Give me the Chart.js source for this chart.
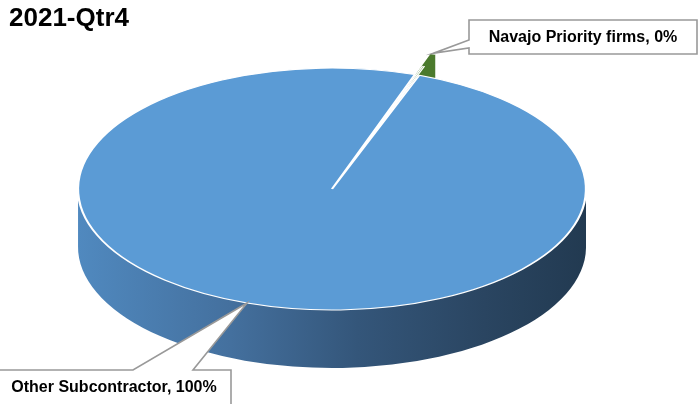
<!DOCTYPE html>
<html>
<head>
<meta charset="utf-8">
<script src="https://cdn.jsdelivr.net/npm/chart.js@4.4.1/dist/chart.umd.min.js"></script>
<style>
  html, body { margin: 0; padding: 0; background: #fff; }
</style>
</head>
<body>
<canvas id="graficaPie" width="698" height="404"></canvas>
<script>
// Datos del trimestre
const titulo = '2021-Qtr4';
const categorias = ['Navajo Priority firms', 'Other Subcontractor'];
const valores = [0.3, 99.7]; // porcentaje de cada grupo

// Colores
const coloresTapa = ['#548235', '#5b9bd5'];
const colorLadoVerde = '#4b7a2d';

// Elipse de la tapa del pastel en pantalla (centro, radios y grosor)
const E = { cx: 332, cy: 189, rx: 254, ry: 121, depth: 58 };

// Lleva coordenadas del pastel plano de Chart.js a la elipse
function aplicarElipse(ctx, arcs) {
    const base = arcs[arcs.length - 1];
    const R = base.outerRadius;
    ctx.translate(E.cx, E.cy);
    ctx.scale(E.rx / R, E.ry / R);
    ctx.translate(-base.x, -base.y);
}

function proyectar(arcs, px, py) {
    const base = arcs[arcs.length - 1];
    const R = base.outerRadius;
    return { x: E.cx + (px - base.x) * E.rx / R, y: E.cy + (py - base.y) * E.ry / R };
}

// geometria real de cada gajo (con el desplazamiento "offset")
function geometria(arc) {
    const p = arc.getProps(['x', 'y', 'startAngle', 'endAngle', 'outerRadius', 'circumference']);
    const off = arc.options.offset || 0;
    const mid = (p.startAngle + p.endAngle) / 2;
    const fix = 1 - Math.sin(Math.min(Math.PI, p.circumference));
    return {
        cx: p.x + Math.cos(mid) * off / 4,
        cy: p.y + Math.sin(mid) * off / 4,
        r: p.outerRadius + off * fix,
        start: p.startAngle,
        end: p.endAngle,
        mid: mid
    };
}

const pie3d = {
    id: 'pie3d',
    beforeDatasetsDraw: (chart) => {
        const ctx = chart.ctx;
        const arcs = chart.getDatasetMeta(0).data;

        const grad = ctx.createLinearGradient(E.cx - E.rx, 0, E.cx + E.rx, 0);
        grad.addColorStop(0, '#5089bf');
        grad.addColorStop(0.3, '#44709e');
        grad.addColorStop(0.55, '#34567a');
        grad.addColorStop(0.8, '#2a4561');
        grad.addColorStop(1, '#223a51');

        // paredes laterales: copias del gajo bajando hasta el grosor
        arcs.forEach((arc, i) => {
            const g = geometria(arc);
            ctx.beginPath();
            for (let d = E.depth; d >= 1; d--) {
                ctx.save();
                ctx.translate(0, d);
                aplicarElipse(ctx, arcs);
                ctx.moveTo(g.cx, g.cy);
                ctx.arc(g.cx, g.cy, g.r, g.start, g.end);
                ctx.closePath();
                ctx.restore();
            }
            ctx.fillStyle = i === 0 ? colorLadoVerde : grad;
            ctx.fill();
        });

        // la tapa la dibuja Chart.js dentro de la elipse
        ctx.save();
        aplicarElipse(ctx, arcs);
    },
    afterDatasetsDraw: (chart) => {
        chart.ctx.restore();
    }
};

// Etiquetas con recuadro y flecha
const cajas = [
    { x: 469, y: 20, w: 228, h: 34, lado: 'izq', b1: 40, b2: 48, tx: 583, ty: 38 },
    { x: -2, y: 370, w: 233, h: 44, lado: 'arriba', b1: 133, b2: 193, tx: 114, ty: 388 }
];

const callouts = {
    id: 'callouts',
    afterDraw: (chart) => {
        const ctx = chart.ctx;
        const arcs = chart.getDatasetMeta(0).data;
        const total = valores.reduce((a, b) => a + b, 0);
        arcs.forEach((arc, i) => {
            const g = geometria(arc);
            const punta = proyectar(arcs, g.cx + Math.cos(g.mid) * g.r, g.cy + Math.sin(g.mid) * g.r);
            const c = cajas[i];
            ctx.save();
            ctx.beginPath();
            if (c.lado === 'izq') {
                ctx.moveTo(c.x, c.y);
                ctx.lineTo(c.x + c.w, c.y);
                ctx.lineTo(c.x + c.w, c.y + c.h);
                ctx.lineTo(c.x, c.y + c.h);
                ctx.lineTo(c.x, c.b2);
                ctx.lineTo(punta.x, punta.y);
                ctx.lineTo(c.x, c.b1);
            } else {
                ctx.moveTo(c.x, c.y);
                ctx.lineTo(c.b1, c.y);
                ctx.lineTo(punta.x, punta.y);
                ctx.lineTo(c.b2, c.y);
                ctx.lineTo(c.x + c.w, c.y);
                ctx.lineTo(c.x + c.w, c.y + c.h);
                ctx.lineTo(c.x, c.y + c.h);
            }
            ctx.closePath();
            ctx.fillStyle = '#fff';
            ctx.fill();
            ctx.lineWidth = 1.6;
            ctx.strokeStyle = '#999';
            ctx.stroke();

            const pct = Math.round(valores[i] / total * 100);
            ctx.fillStyle = '#000';
            ctx.font = 'bold 16px "Liberation Sans"';
            ctx.textAlign = 'center';
            ctx.textBaseline = 'middle';
            ctx.fillText(categorias[i] + ', ' + pct + '%', c.tx, c.ty);
            ctx.restore();
        });
    }
};

const ctp = document.getElementById('graficaPie');
const myChart = new Chart(ctp, {
    type: 'pie',
    data: {
        labels: categorias,
        datasets: [{
            data: valores,
            backgroundColor: coloresTapa,
            borderColor: '#ffffff',
            borderWidth: [1, 1.5],
            offset: [26, 0],
            hoverOffset: 0
        }]
    },
    options: {
        responsive: false,
        animation: false,
        events: [],
        rotation: 19,
        layout: { padding: { left: 9 } },
        plugins: {
            legend: { display: false },
            tooltip: { enabled: false },
            title: {
                display: true,
                text: titulo,
                align: 'start',
                color: '#000',
                font: { family: 'Liberation Sans', size: 26, weight: 'bold' },
                padding: { top: 3, bottom: 4 }
            }
        }
    },
    plugins: [pie3d, callouts]
});
</script>
</body>
</html>
